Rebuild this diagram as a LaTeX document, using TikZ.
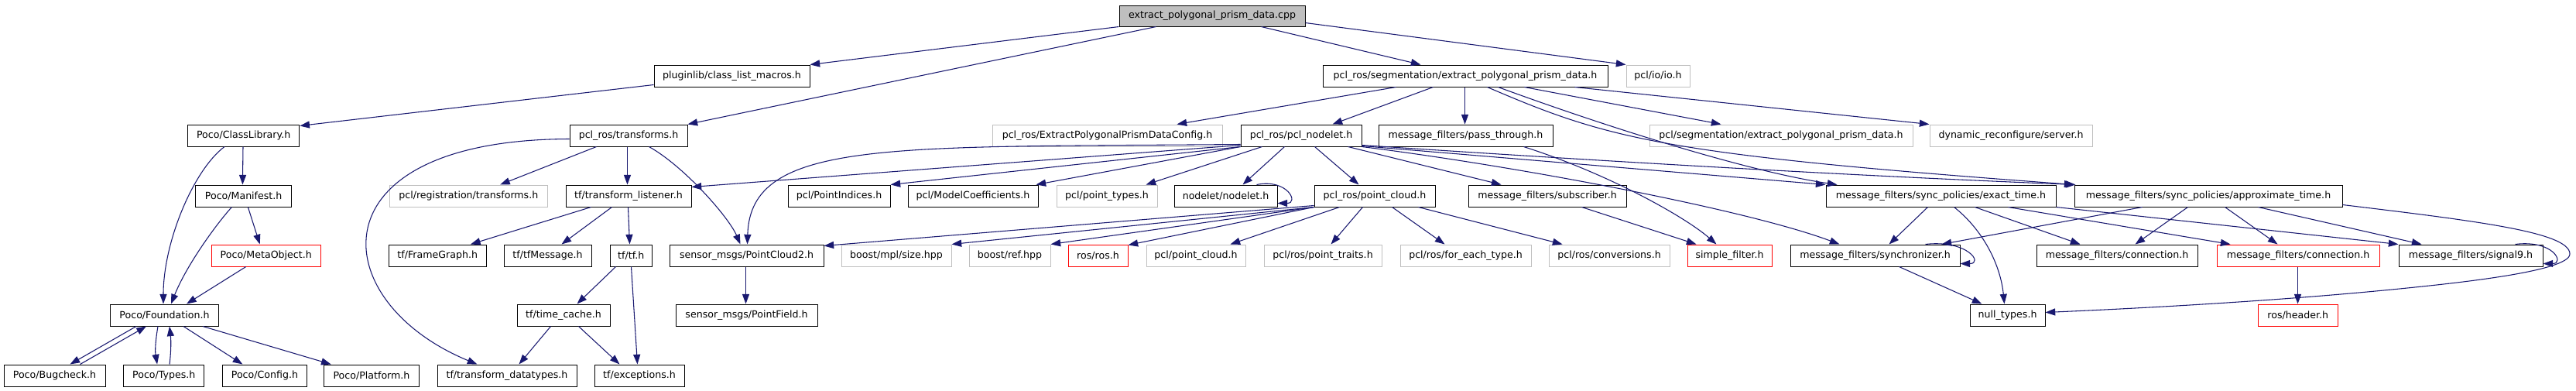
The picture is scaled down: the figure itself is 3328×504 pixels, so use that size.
\documentclass[tikz,border=0pt]{standalone}
\usepackage{fontspec}
\setmainfont{DejaVu Sans}
\usetikzlibrary{arrows.meta,calc}
\definecolor{edgec}{HTML}{191970}
\definecolor{ugray}{HTML}{BFBFBF}
\definecolor{tred}{HTML}{FF0000}
\newcommand\bx[7]{\node[#6, minimum width={(#4-#2)*0.75pt}, minimum height={(#5-#3)*0.75pt}] (#1) at ({(#2+#4)/2},{(#3+#5)/2}) {#7};}
\tikzset{
  every node/.style={font=\fontsize{9.45}{11}\selectfont, inner sep=0pt, rectangle},
  doc/.style={draw=black, line width=0.75pt},
  und/.style={draw=ugray, line width=0.75pt},
  trc/.style={draw=tred, line width=0.75pt},
  rootbox/.style={draw=black, fill=ugray, line width=0.75pt},
  dep/.style={draw=edgec, line width=0.8pt, -{Triangle[length=9.5pt,width=6.8pt]}},
}
\begin{document}
\begin{tikzpicture}[x=0.75pt,y=-0.75pt]
\useasboundingbox (0,0) rectangle (3328,504);
% row 1
\bx{cpp}{1446}{7}{1686}{34}{rootbox}{extract\_polygonal\_prism\_data.cpp}
% row 2
\bx{plug}{845}{84}{1046}{112}{doc}{pluginlib/class\_list\_macros.h}
\bx{seg}{1709}{84}{2077}{112}{doc}{pcl\_ros/segmentation/extract\_polygonal\_prism\_data.h}
\bx{io}{2101}{84}{2183}{112}{und}{pcl/io/io.h}
% row 3
\bx{cls}{242.5}{161}{386.8}{189}{doc}{Poco/ClassLibrary.h}
\bx{tfm}{736}{161}{888}{189}{doc}{pcl\_ros/transforms.h}
\bx{cfg}{1282}{161}{1579}{189}{und}{pcl\_ros/ExtractPolygonalPrismDataConfig.h}
\bx{nod}{1603}{161}{1759}{189}{doc}{pcl\_ros/pcl\_nodelet.h}
\bx{pass}{1781}{161}{2006}{189}{doc}{message\_filters/pass\_through.h}
\bx{pseg}{2131}{161}{2471}{189}{und}{pcl/segmentation/extract\_polygonal\_prism\_data.h}
\bx{dyn}{2493}{161}{2703}{189}{und}{dynamic\_reconfigure/server.h}
% row 4
\bx{man}{252.9}{239}{376.4}{267}{doc}{Poco/Manifest.h}
\bx{reg}{503.6}{239}{707}{267}{und}{pcl/registration/transforms.h}
\bx{tfl}{731}{239}{893}{267}{doc}{tf/transform\_listener.h}
\bx{pidx}{1018}{239}{1150}{267}{doc}{pcl/PointIndices.h}
\bx{mcoef}{1173}{239}{1341}{267}{doc}{pcl/ModelCoefficients.h}
\bx{ptyp}{1365}{239}{1495}{267}{und}{pcl/point\_types.h}
\bx{nlet}{1517}{239}{1650}{267}{doc}{nodelet/nodelet.h}
\bx{rpc}{1698}{239}{1854}{267}{doc}{pcl\_ros/point\_cloud.h}
\bx{sub}{1897}{239}{2101}{267}{doc}{message\_filters/subscriber.h}
\bx{ext}{2359}{239}{2656}{267}{doc}{message\_filters/sync\_policies/exact\_time.h}
\bx{apx}{2680}{239}{3026}{267}{doc}{message\_filters/sync\_policies/approximate\_time.h}
% row 5
\bx{meta}{273.2}{316}{414.3}{344}{trc}{Poco/MetaObject.h}
\bx{fg}{502.5}{316}{628}{344}{doc}{tf/FrameGraph.h}
\bx{tfmsg}{651}{316}{764}{344}{doc}{tf/tfMessage.h}
\bx{tf}{788}{316}{842.5}{344}{doc}{tf/tf.h}
\bx{pc2}{865}{316}{1064}{344}{doc}{sensor\_msgs/PointCloud2.h}
\bx{mpl}{1087}{316}{1229}{344}{und}{boost/mpl/size.hpp}
\bx{ref}{1252}{316}{1357}{344}{und}{boost/ref.hpp}
\bx{ros}{1380}{316}{1457}{344}{trc}{ros/ros.h}
\bx{pcl}{1481}{316}{1609}{344}{und}{pcl/point\_cloud.h}
\bx{ptr}{1633}{316}{1785}{344}{und}{pcl/ros/point\_traits.h}
\bx{fet}{1809}{316}{1978}{344}{und}{pcl/ros/for\_each\_type.h}
\bx{conv}{2001}{316}{2157}{344}{und}{pcl/ros/conversions.h}
\bx{sf}{2180}{316}{2289}{344}{trc}{simple\_filter.h}
\bx{sync}{2313}{316}{2532}{344}{doc}{message\_filters/synchronizer.h}
\bx{conb}{2631}{316}{2839}{344}{doc}{message\_filters/connection.h}
\bx{conr}{2864}{316}{3074}{344}{trc}{message\_filters/connection.h}
\bx{sig}{3099}{316}{3285}{344}{doc}{message\_filters/signal9.h}
% row 6
\bx{fnd}{142.5}{393}{282.5}{421}{doc}{Poco/Foundation.h}
\bx{tc}{668}{393}{788}{421}{doc}{tf/time\_cache.h}
\bx{pf}{873}{393}{1056}{421}{doc}{sensor\_msgs/PointField.h}
\bx{nt}{2545}{393}{2642}{421}{doc}{null\_types.h}
\bx{hdr}{2917.5}{393}{3020}{421}{trc}{ros/header.h}
% row 7
\bx{bug}{5}{471}{136}{499}{doc}{Poco/Bugcheck.h}
\bx{typ}{159.6}{471}{263.9}{499}{doc}{Poco/Types.h}
\bx{conf}{287.9}{471}{396}{499}{doc}{Poco/Config.h}
\bx{plat}{418.2}{471}{541.8}{499}{doc}{Poco/Platform.h}
\bx{tdt}{565}{471}{745}{499}{doc}{tf/transform\_datatypes.h}
\bx{exc}{768}{471}{884}{499}{doc}{tf/exceptions.h}
\coordinate (loopR) at (3320,328);
\coordinate (loopB) at (3100,373);
% edges from cpp
\draw[dep] (cpp.south west) -- (plug.north east);
\draw[dep] ($(cpp.south west)+(48,0)$) -- (tfm.north east);
\draw[dep] ($(cpp.south west)+(184,0)$) -- ($(seg.north west)+(127,0)$);
\draw[dep] ($(cpp.south east)+(0,-5)$) -- (io.north west);
% Poco
\draw[dep] ($(plug.south west)+(0,-3)$) -- ($(cls.north east)+(0,2)$);
\draw[dep] ($(cls.south west)+(72,0)$) -- ($(man.north west)+(61,0)$);
\draw[dep] ($(cls.south west)+(48,0)$) .. controls +(-40,30) and +(0,-80) .. ($(fnd.north west)+(69,0)$);
\draw[dep] ($(man.south west)+(47,0)$) .. controls +(-20,22) and +(20,-50) .. ($(fnd.north west)+(79,0)$);
\draw[dep] ($(man.south west)+(68,0)$) -- ($(meta.north west)+(63,0)$);
\draw[dep] ($(meta.south west)+(45,0)$) -- ($(fnd.north west)+(99,0)$);
\draw[dep] ($(fnd.south west)+(34,0)$) -- ($(bug.north west)+(86,0)$);
\draw[dep] ($(bug.north west)+(99,0)$) -- ($(fnd.south west)+(47,0)$);
\draw[dep] ($(fnd.south west)+(62,0)$) .. controls +(-3,18) and +(-3,-18) .. ($(typ.north west)+(44,0)$);
\draw[dep] ($(typ.north west)+(60,0)$) .. controls +(2,-18) and +(2,18) .. ($(fnd.south west)+(77,0)$);
\draw[dep] ($(fnd.south west)+(95,0)$) -- ($(conf.north west)+(26,0)$);
\draw[dep] ($(fnd.south west)+(120,0)$) -- ($(plat.north west)+(10,0)$);
% pcl_ros/transforms.h
\draw[dep] ($(tfm.south west)+(35,0)$) -- ($(reg.north west)+(143,0)$);
\draw[dep] ($(tfm.south west)+(75,0)$) -- ($(tfl.north west)+(80,0)$);
\draw[dep] ($(tfm.south west)+(103,0)$) .. controls +(45,25) and +(-15,-35) .. ($(pc2.north west)+(92,0)$);
\draw[dep] ($(tfm.south west)+(0,-10)$) .. controls +(-335,1) and +(-197,-81) .. ($(tdt.north west)+(52,0)$);
% tf
\draw[dep] ($(tfl.south west)+(33,0)$) -- ($(fg.north west)+(106,0)$);
\draw[dep] ($(tfl.south west)+(60,0)$) -- ($(tfmsg.north west)+(75,0)$);
\draw[dep] ($(tfl.south west)+(81,0)$) -- ($(tf.north west)+(26,0)$);
\draw[dep] ($(tf.south west)+(8,0)$) -- ($(tc.north west)+(78,0)$);
\draw[dep] ($(tf.south west)+(28,0)$) -- ($(exc.north west)+(56,0)$);
\draw[dep] ($(tc.south west)+(44,0)$) -- ($(tdt.north west)+(106,0)$);
\draw[dep] ($(tc.south west)+(80,0)$) -- ($(exc.north west)+(33,0)$);
\draw[dep] ($(pc2.south west)+(99,0)$) -- ($(pf.north west)+(91,0)$);
% segmentation header
\draw[dep] ($(seg.south west)+(95,0)$) -- ($(cfg.north west)+(239,0)$);
\draw[dep] ($(seg.south west)+(143,0)$) -- ($(nod.north west)+(119,0)$);
\draw[dep] ($(seg.south west)+(184,0)$) -- ($(pass.north west)+(112,0)$);
\draw[dep] ($(seg.south west)+(261,0)$) -- ($(pseg.north west)+(93,0)$);
\draw[dep] ($(seg.south west)+(326,0)$) -- (dyn.north west);
\draw[dep] ($(seg.south west)+(213,0)$) .. controls +(158,68) and +(-530,-39) .. (apx.north west);
\draw[dep] ($(seg.south west)+(227,0)$) .. controls +(150,55) and +(-110,-16) .. ($(ext.north west)+(15,0)$);
% pcl_nodelet
\draw[dep] ($(nod.south west)+(0,-2)$) -- ($(tfl.north east)+(0,3)$);
\draw[dep] ($(nod.south west)+(0,-3)$) .. controls +(-453,4) and +(4,-136) .. ($(pc2.north west)+(101,0)$);
\draw[dep] (nod.south west) -- (pidx.north east);
\draw[dep] (nod.south west) -- ($(mcoef.north west)+(166,0)$);
\draw[dep] ($(nod.south west)+(28,0)$) -- ($(ptyp.north west)+(116,0)$);
\draw[dep] ($(nod.south west)+(57,0)$) -- ($(nlet.north west)+(89,0)$);
\draw[dep] ($(nod.south west)+(96,0)$) -- ($(rpc.north west)+(58,0)$);
\draw[dep] ($(nod.south west)+(139,0)$) -- ($(sub.north west)+(43,0)$);
\draw[dep] ($(nod.south east)+(0,-1)$) -- (ext.north west);
\draw[dep] ($(nod.south east)+(0,-2)$) .. controls +(300,20) and +(-300,-12) .. ($(apx.north west)+(2,0)$);
\draw[dep] (nod.south east) .. controls +(200,25) and +(-120,-45) .. ($(sync.north west)+(64,0)$);
% pass_through, subscriber
\draw[dep] ($(pass.south west)+(188,0)$) .. controls +(110,35) and +(-40,-35) .. ($(sf.north west)+(38,0)$);
\draw[dep] ($(sub.south west)+(147,0)$) -- ($(sf.north west)+(12,0)$);
% nodelet self loop
\draw[dep] ($(nlet.north west)+(107,0)$) .. controls +(40,-8) and +(28,0) .. ($(nlet.south east)+(0,-5)$);
% pcl_ros/point_cloud.h
\draw[dep] (rpc.south west) -- (mpl.north east);
\draw[dep] (rpc.south west) -- (ref.north east);
\draw[dep] (rpc.south west) -- ($(ros.north east)+(0,1)$);
\draw[dep] ($(rpc.south west)+(33,0)$) -- ($(pcl.north west)+(109,0)$);
\draw[dep] ($(rpc.south west)+(0,-2)$) -- ($(pc2.north east)+(0,2)$);
\draw[dep] ($(rpc.south west)+(63,0)$) -- ($(ptr.north west)+(87,0)$);
\draw[dep] ($(rpc.south west)+(101,0)$) -- ($(fet.north west)+(58,0)$);
\draw[dep] ($(rpc.south west)+(135,0)$) -- ($(conv.north west)+(18,0)$);
% exact_time
\draw[dep] ($(ext.south west)+(132,0)$) -- ($(sync.north west)+(128,0)$);
\draw[dep] ($(ext.south west)+(166,0)$) .. controls +(38,30) and +(-5,-50) .. ($(nt.north west)+(45,0)$);
\draw[dep] ($(ext.south west)+(193,0)$) -- ($(conb.north west)+(57,0)$);
\draw[dep] ($(ext.south west)+(236,0)$) -- ($(conr.north west)+(18,0)$);
\draw[dep] (ext.south east) -- (sig.north west);
% approximate_time
\draw[dep] ($(apx.south west)+(88,0)$) -- ($(sync.north west)+(196,0)$);
\draw[dep] ($(apx.south west)+(147,0)$) -- ($(conb.north west)+(128,0)$);
\draw[dep] ($(apx.south west)+(195,0)$) -- ($(conr.north west)+(79,0)$);
\draw[dep] ($(apx.south west)+(238,0)$) -- ($(sig.north west)+(30,0)$);
\draw[dep] ($(apx.south east)+(0,-3)$) .. controls +(174,21) and +(0,-28) .. (loopR) .. controls +(0,22) and +(80,-8) .. (loopB) .. controls +(-150,15) and +(138,-6) .. ($(nt.north east)+(0,11)$);
% synchronizer, connection, signal9
\draw[dep] ($(sync.north west)+(175,0)$) .. controls +(55,-6) and +(30,0) .. ($(sync.south east)+(0,-4)$);
\draw[dep] ($(sync.south west)+(141,0)$) -- ($(nt.north west)+(16,0)$);
\draw[dep] ($(conr.south west)+(105,0)$) -- ($(hdr.north west)+(51.5,0)$);
\draw[dep] ($(sig.north west)+(151,0)$) .. controls +(50,-6) and +(28,0) .. ($(sig.south east)+(0,-4)$);
\end{tikzpicture}
\end{document}
